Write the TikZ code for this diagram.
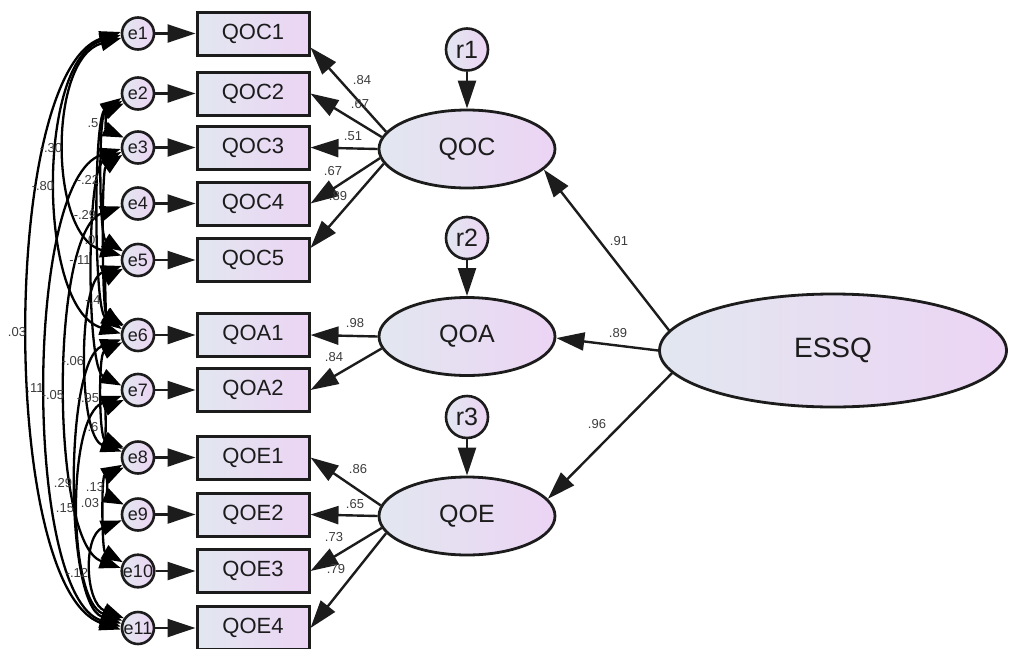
\documentclass[tikz,border=0pt]{standalone}
\usepackage{fontspec}
\setmainfont{Liberation Sans}
\usetikzlibrary{arrows.meta,shapes.geometric}
\definecolor{fillL}{RGB}{226,231,240}
\definecolor{fillR}{RGB}{236,212,244}
\definecolor{ink}{RGB}{28,28,28}
\definecolor{coef}{RGB}{60,60,60}
\tikzset{
  box/.style={draw=ink, line width=3pt, rectangle, minimum width=112pt, minimum height=43pt, inner sep=0pt, left color=fillL, right color=fillR, font=\fontsize{22}{24}\selectfont, text=ink},
  lat/.style={draw=ink, line width=2.8pt, ellipse, minimum width=176pt, minimum height=78pt, inner sep=0pt, left color=fillL, right color=fillR, font=\fontsize{25}{27}\selectfont, text=ink},
  err/.style={draw=ink, line width=2.6pt, circle, minimum size=32pt, inner sep=0pt, left color=fillL, right color=fillR, font=\fontsize{18}{20}\selectfont, text=ink},
  res/.style={draw=ink, line width=2.6pt, circle, minimum size=42pt, inner sep=0pt, left color=fillL, right color=fillR, font=\fontsize{25}{27}\selectfont, text=ink},
  conn/.style={draw=ink, line width=2.4pt, -{Triangle[length=28pt,width=18pt]}},
  cov/.style={draw=black, line width=2.3pt, {Triangle[length=21pt,width=15pt]}-{Triangle[length=21pt,width=15pt]}},
  coefl/.style={font=\fontsize{13}{15}\selectfont, text=coef, inner sep=0pt},
}
\begin{document}
\begin{tikzpicture}[x=1pt,y=-1pt]
\useasboundingbox (0,0) rectangle (1009,648);
% error terms
\node[err] (e1) at (138,33.5) {e1};
\node[err] (e2) at (138,93.5) {e2};
\node[err] (e3) at (138,147.5) {e3};
\node[err] (e4) at (138,203.5) {e4};
\node[err] (e5) at (138,260) {e5};
\node[err] (e6) at (138,335) {e6};
\node[err] (e7) at (138,390) {e7};
\node[err] (e8) at (138,457.5) {e8};
\node[err] (e9) at (138,514.5) {e9};
\node[err] (e10) at (138,571) {e10};
\node[err] (e11) at (138,628) {e11};
% indicators
\node[box] (b1) at (253,33.5) {QOC1};
\node[box] (b2) at (253,93.5) {QOC2};
\node[box] (b3) at (253,147.5) {QOC3};
\node[box] (b4) at (253,203.5) {QOC4};
\node[box] (b5) at (253,260) {QOC5};
\node[box] (b6) at (253,335) {QOA1};
\node[box] (b7) at (253,390) {QOA2};
\node[box] (b8) at (253,457.5) {QOE1};
\node[box] (b9) at (253,514.5) {QOE2};
\node[box] (b10) at (253,571) {QOE3};
\node[box] (b11) at (253,628) {QOE4};
% latents
\node[lat] (QOC) at (467,149) {QOC};
\node[lat] (QOA) at (467,336.5) {QOA};
\node[lat] (QOE) at (467,516) {QOE};
\node[lat, minimum width=347pt, minimum height=113pt, font=\fontsize{28}{30}\selectfont] (ESSQ) at (833,350.5) {ESSQ};
\node[res] (r1) at (467,49.5) {r1};
\node[res] (r2) at (467,238) {r2};
\node[res] (r3) at (467,417) {r3};
% error -> indicator
\foreach \i in {1,...,11} {\draw[conn] (e\i) -- (b\i);}
% residuals
\draw[conn] (r1) -- (QOC);
\draw[conn] (r2) -- (QOA);
\draw[conn] (r3) -- (QOE);
% loadings
\draw[conn] (QOC.168) -- ([yshift=-14pt]b1.east);
\draw[conn] (QOC.172) -- (b2.east);
\draw[conn] (QOC.180) -- (b3.east);
\draw[conn] (QOC.186) -- (b4.east);
\draw[conn] (QOC.190) -- ([yshift=12pt]b5.east);
\draw[conn] (QOA.180) -- (b6.east);
\draw[conn] (QOA.188) -- (b7.east);
\draw[conn] (QOE.173) -- (b8.east);
\draw[conn] (QOE.180) -- (b9.east);
\draw[conn] (QOE.188) -- (b10.east);
\draw[conn] (QOE.192) -- (b11.east);
\draw[conn] (ESSQ.173) -- (QOC.-15);
\draw[conn] (ESSQ.180) -- (QOA.-1);
\draw[conn] (ESSQ.188) -- (QOE.12);
% loading labels
\node[coefl] (l1) at (362,80) {.84};
\node[coefl] (l2) at (360,104) {.67};
\node[coefl] (l3) at (353,136) {.51};
\node[coefl] (l4) at (333,171) {.67};
\node[coefl] (l5) at (338,196) {.89};
\node[coefl] (l6) at (355,323) {.98};
\node[coefl] (l7) at (334,357) {.84};
\node[coefl] (l8) at (358,469) {.86};
\node[coefl] (l9) at (355,504) {.65};
\node[coefl] (l10) at (334,537) {.73};
\node[coefl] (l11) at (336,569) {.79};
\node[coefl] (l12) at (619,241) {.91};
\node[coefl] (l13) at (618,333) {.89};
\node[coefl] (l14) at (597,424) {.96};
% covariances
\draw[cov] (e1.195) .. controls +(-73,20) and +(-73,-20) .. (e5.165);
\draw[cov] (e1.185) .. controls +(-84,25) and +(-84,-25) .. (e6.175);
\draw[cov] (e2.215) .. controls +(-18,8) and +(-18,-8) .. (e3.145);
\draw[cov] (e2.205) .. controls +(-24,15) and +(-24,-15) .. (e5.150);
\draw[cov] (e2.195) .. controls +(-28,20) and +(-28,-20) .. (e6.160);
\draw[cov] (e3.205) .. controls +(-21,15) and +(-21,-15) .. (e6.150);
\draw[cov] (e3.195) .. controls +(-35,18) and +(-35,-18) .. (e7.165);
\draw[cov] (e5.210) .. controls +(-18,10) and +(-18,-10) .. (e6.145);
\draw[cov] (e1.175) .. controls +(-121,40) and +(-121,-40) .. (e11.185);
\draw[cov] (e5.200) .. controls +(-44,15) and +(-44,-15) .. (e8.160);
\draw[cov] (e3.185) .. controls +(-97,30) and +(-97,-30) .. (e11.175);
\draw[cov] (e4.190) .. controls +(-71,25) and +(-71,-25) .. (e10.170);
\draw[cov] (e6.205) .. controls +(-24,12) and +(-24,-12) .. (e8.150);
\draw[cov] (e7.215) .. controls +(-18,8) and +(-18,-8) .. (e8.145);
\draw[cov] (e6.195) .. controls +(-57,20) and +(-57,-20) .. (e11.165);
\draw[cov] (e8.215) .. controls +(-16,8) and +(-16,-8) .. (e9.145);
\draw[cov] (e7.200) .. controls +(-55,20) and +(-55,-20) .. (e11.155);
\draw[cov] (e8.205) .. controls +(-21,12) and +(-21,-12) .. (e10.150);
\draw[cov] (e9.200) .. controls +(-39,15) and +(-39,-15) .. (e11.145);
% covariance labels
\node[coefl] (c1) at (51,148) {-.30};
\node[coefl] (c2) at (43,186) {-.80};
\node[coefl] (c3) at (93,123) {.5};
\node[coefl] (c4) at (88,180) {-.22};
\node[coefl] (c5) at (85,215) {-.29};
\node[coefl] (c6) at (90,240) {.0};
\node[coefl] (c7) at (80,260) {-.11};
\node[coefl] (c8) at (93,300) {-.4};
\node[coefl] (c9) at (17,332) {.03};
\node[coefl] (c10) at (73,361) {-.06};
\node[coefl] (c11) at (35,388) {.11};
\node[coefl] (c12) at (53,395) {-.05};
\node[coefl] (c13) at (88,398) {-.95};
\node[coefl] (c14) at (93,427) {.6};
\node[coefl] (c15) at (63,483) {.29};
\node[coefl] (c16) at (95,487) {.13};
\node[coefl] (c17) at (65,508) {.15};
\node[coefl] (c18) at (90,503) {.03};
\node[coefl] (c19) at (77,573) {-.12};
\end{tikzpicture}
\end{document}
